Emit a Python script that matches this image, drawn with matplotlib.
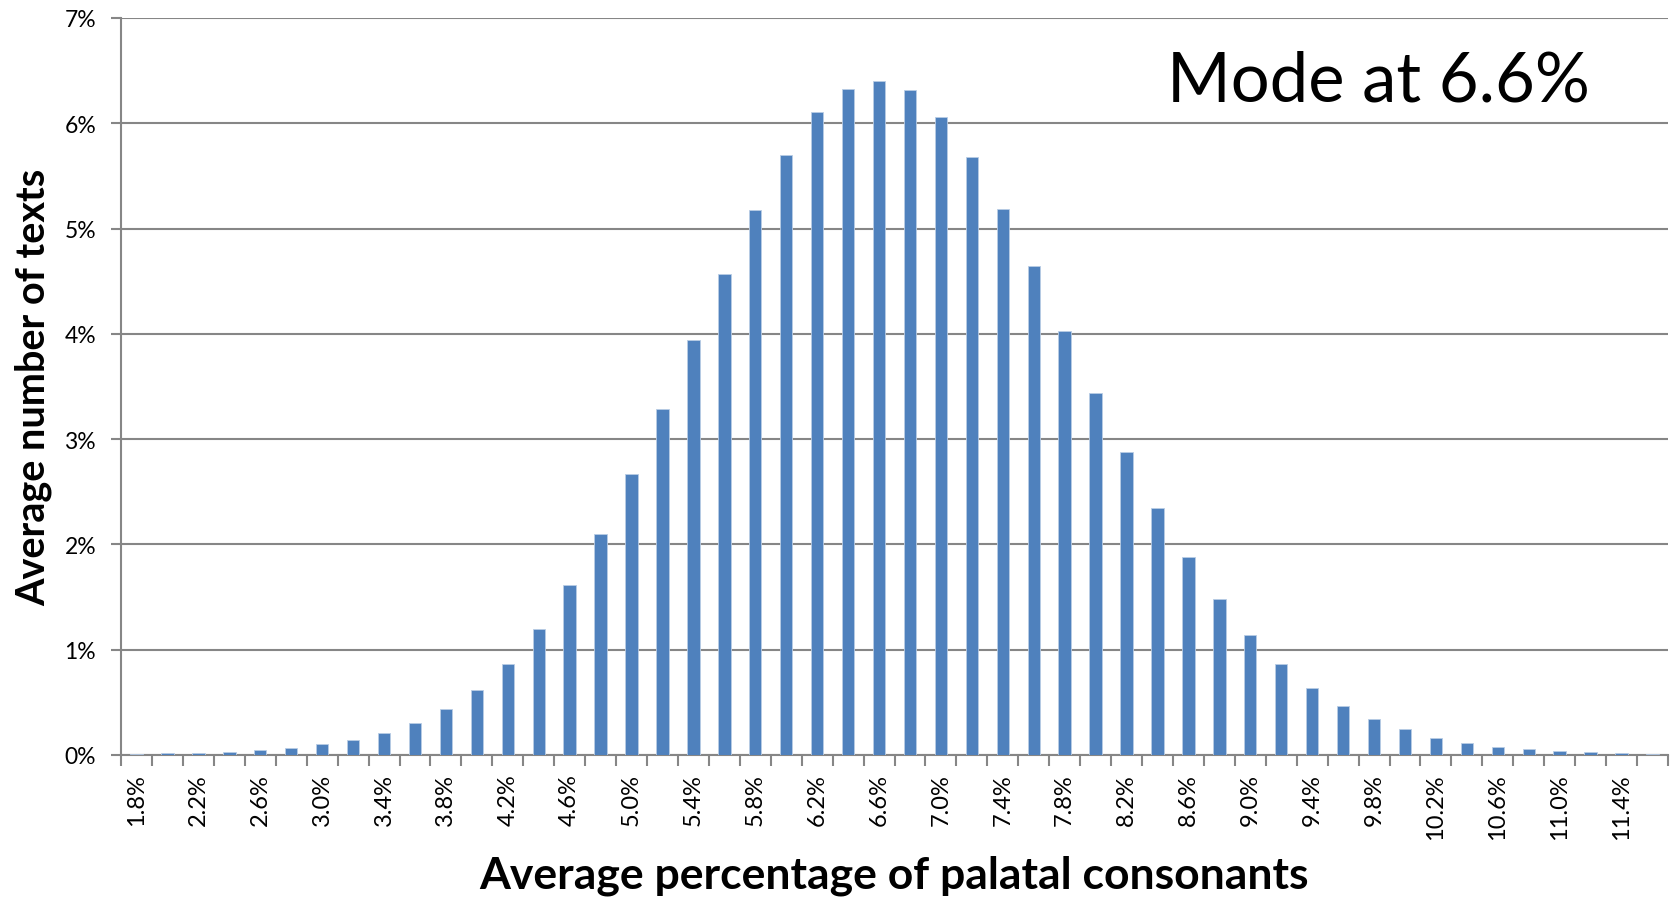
import numpy as np
import matplotlib.pyplot as plt
from matplotlib.ticker import FixedLocator, FuncFormatter

# Data: bins of average palatal consonant percentage (1.8% .. 11.6%, step 0.2)
bins = [1.8, 2.0, 2.2, 2.4, 2.6, 2.8, 3.0, 3.2, 3.4, 3.6,
        3.8, 4.0, 4.2, 4.4, 4.6, 4.8, 5.0, 5.2, 5.4, 5.6,
        5.8, 6.0, 6.2, 6.4, 6.6, 6.8, 7.0, 7.2, 7.4, 7.6,
        7.8, 8.0, 8.2, 8.4, 8.6, 8.8, 9.0, 9.2, 9.4, 9.6,
        9.8, 10.0, 10.2, 10.4, 10.6, 10.8, 11.0, 11.2, 11.4, 11.6]
share = [0.01, 0.015, 0.022, 0.028, 0.051, 0.066, 0.10, 0.139, 0.206, 0.30,
         0.44, 0.614, 0.866, 1.20, 1.615, 2.10, 2.67, 3.29, 3.94, 4.57,
         5.18, 5.70, 6.11, 6.33, 6.40, 6.32, 6.06, 5.68, 5.19, 4.64,
         4.03, 3.44, 2.875, 2.35, 1.88, 1.48, 1.14, 0.864, 0.638, 0.467,
         0.34, 0.244, 0.165, 0.117, 0.079, 0.054, 0.035, 0.025, 0.016, 0.01]
yticks = [0, 1, 2, 3, 4, 5, 6, 7]

font = 'Lato'
grid_col = '#868686'
bar_col = '#4F81BD'

fig = plt.figure(figsize=(16.77, 9.03), dpi=100)
ax = fig.add_axes([0.0722, 0.1628, 0.9224, 0.8162])

x = np.arange(len(bins))
ax.bar(x, share, width=0.4, color=bar_col, edgecolor='#b9cde5', linewidth=0.6, zorder=3)

ax.set_xlim(-0.5, len(bins) - 0.5)
ax.set_ylim(0, 7)

# y axis
ax.set_yticks(yticks)
ax.yaxis.set_major_formatter(FuncFormatter(lambda v, p: f'{v:.0f}%'))
ax.yaxis.grid(True, color=grid_col, linewidth=1.5, zorder=0)
ax.tick_params(axis='y', length=7, width=1.5, color=grid_col, labelsize=16.5,
               pad=11, labelcolor='black')

# x axis: tick marks at category boundaries, labels on every other category
ax.xaxis.set_major_locator(FixedLocator(np.arange(-0.5, len(bins), 1.0)))
ax.xaxis.set_major_formatter(FuncFormatter(lambda v, p: ''))
ax.xaxis.set_minor_locator(FixedLocator(x[::2]))
ax.xaxis.set_minor_formatter(FuncFormatter(lambda v, p: f'{bins[int(round(v))]:.1f}%'))
ax.tick_params(axis='x', which='major', length=8, width=1.5, color=grid_col)
ax.tick_params(axis='x', which='minor', length=0, labelsize=17, pad=13,
               labelrotation=90, labelcolor='black')

for s in ['top', 'right']:
    ax.spines[s].set_visible(False)
for s in ['left', 'bottom']:
    ax.spines[s].set_color(grid_col)
    ax.spines[s].set_linewidth(1.5)

for lab in ax.get_xticklabels(minor=True) + ax.get_yticklabels():
    lab.set_fontfamily(font)

fig.text(0.533, 0.030, 'Average percentage of palatal consonants', ha='center',
         va='center', fontsize=32, fontweight='bold', family=font)
fig.text(0.020, 0.571, 'Average number of texts', ha='center', va='center',
         rotation=90, fontsize=28.5, fontweight='bold', family=font)
ax.text(0.813, 0.915, 'Mode at 6.6%', transform=ax.transAxes, ha='center',
        va='center', fontsize=49.5, family=font)

fig.savefig('out.png', dpi=100)
